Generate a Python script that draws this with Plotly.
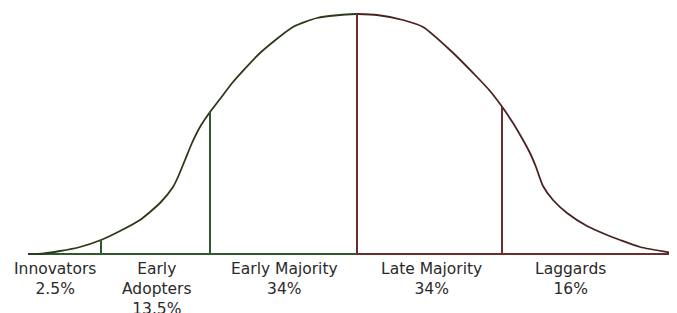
import plotly.graph_objects as go

# Curve (x along the axis, y = height above baseline)
left_x = [28, 38, 60, 80, 101, 120, 140, 160, 173, 178, 185, 192, 200, 210, 220, 233, 260, 293, 317, 340, 357]
left_y = [0, 0, 3, 7, 14, 23, 34, 51, 67, 77, 94, 111, 127, 142, 155, 172, 201, 227, 236, 239, 240]
right_x = [357, 377, 403, 423, 450, 477, 490, 503, 513, 523, 530, 536, 543, 553, 567, 587, 607, 620, 640, 673]
right_y = [240, 239, 234, 227, 204, 177, 163, 146, 131, 114, 101, 87, 68, 54, 41, 28, 19, 14, 7, 1]

# Category boundaries (x) and heights of the dividing lines
bound_x = [101, 210, 357, 502]
bound_h = [14, 142, 240, 147]
bound_col = ["#2f5a2f", "#2f5a2f", "#6b2e2e", "#6b2e2e"]

# Segment labels
labels = ["Innovators<br>2.5%", "Early<br>Adopters<br>13.5%", "Early Majority<br>34%",
          "Late Majority<br>34%", "Laggards<br>16%"]
label_x = [55, 157, 284, 431, 570]

GREEN = "#2f5a2f"
RED = "#6b2e2e"

fig = go.Figure()
# baseline
fig.add_trace(go.Scatter(x=[28, 357], y=[0, 0], mode="lines", line=dict(color=GREEN, width=2), hoverinfo="skip"))
fig.add_trace(go.Scatter(x=[357, 677], y=[0, 0], mode="lines", line=dict(color=RED, width=2), hoverinfo="skip"))
# curve
fig.add_trace(go.Scatter(x=left_x, y=left_y, mode="lines", line=dict(color="#2a3a1a", width=1.8, shape="spline", smoothing=0.6), hoverinfo="skip"))
fig.add_trace(go.Scatter(x=right_x, y=right_y, mode="lines", line=dict(color="#4a2222", width=1.8, shape="spline", smoothing=0.6), hoverinfo="skip"))
# dividers
for bx, bh, bc in zip(bound_x, bound_h, bound_col):
    fig.add_trace(go.Scatter(x=[bx, bx], y=[0, bh], mode="lines", line=dict(color=bc, width=2), hoverinfo="skip"))

for lx, lt in zip(label_x, labels):
    fig.add_annotation(x=lx, y=-4, text=lt, showarrow=False, xanchor="center", yanchor="top",
                       font=dict(family="DejaVu Sans", size=15.5, color="#2a2a2a"))

# page body has an 8px margin: size and ranges compensate so the page matches pixel-for-pixel
fig.update_layout(
    width=669, height=305,
    margin=dict(l=0, r=0, t=0, b=0),
    paper_bgcolor="white", plot_bgcolor="white",
    showlegend=False,
    xaxis=dict(range=[8, 677], visible=False, fixedrange=True),
    yaxis=dict(range=[-59, 246], visible=False, fixedrange=True),
)
fig.write_html("out.html")
